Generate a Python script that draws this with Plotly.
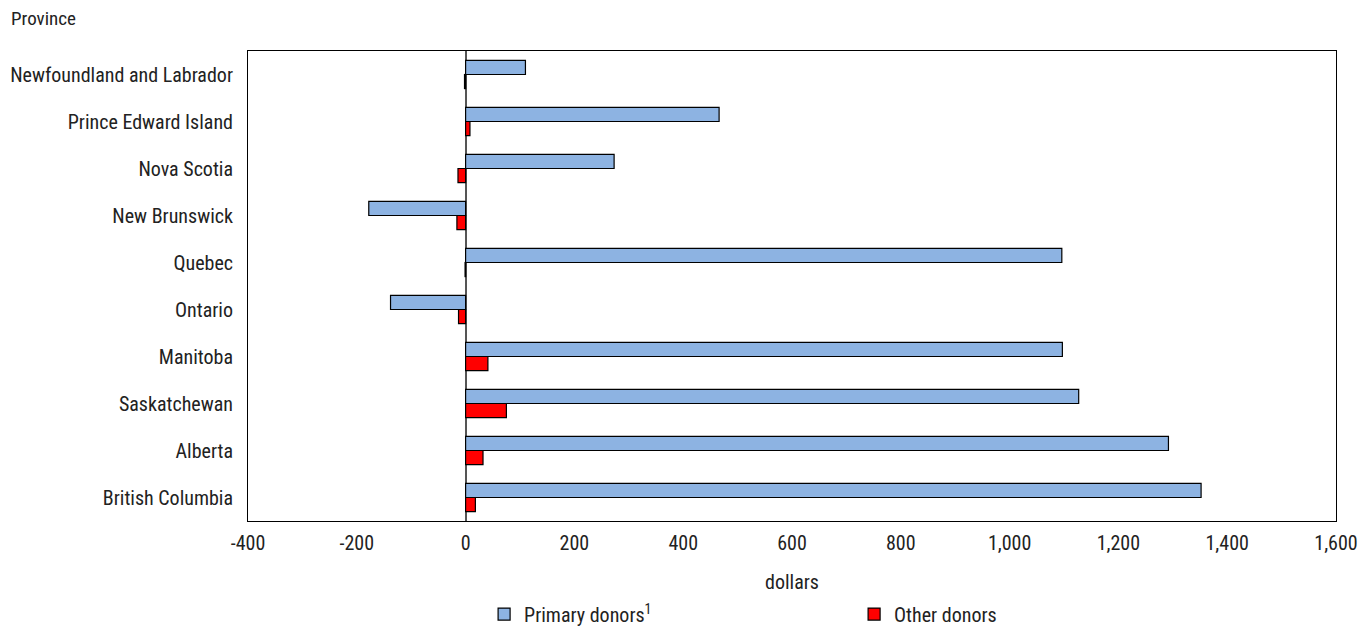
import plotly.graph_objects as go

provinces = ["Newfoundland and Labrador", "Prince Edward Island", "Nova Scotia",
             "New Brunswick", "Quebec", "Ontario", "Manitoba", "Saskatchewan",
             "Alberta", "British Columbia"]
primary_donors = [110, 466, 273, -178, 1096, -138, 1097, 1127, 1292, 1352]
other_donors = [-2, 8, -14, -16, -1, -13, 41, 75, 32, 18]
tick_vals = [-400, -200, 0, 200, 400, 600, 800, 1000, 1200, 1400, 1600]
tick_text = ["-400", "-200", "0", "200", "400", "600", "800", "1,000", "1,200", "1,400", "1,600"]

FONT = "Liberation Sans Narrow, Arial Narrow, Roboto Condensed, Liberation Sans, sans-serif"
FS = 20

fig = go.Figure()
fig.add_trace(go.Bar(y=provinces, x=primary_donors, orientation="h",
                     name="Primary donors<sup>1</sup>",
                     marker=dict(color="#8DB3E2", line=dict(color="black", width=1.2))))
fig.add_trace(go.Bar(y=provinces, x=other_donors, orientation="h",
                     name="Other donors",
                     marker=dict(color="#FF0000", line=dict(color="black", width=1.2))))

fig.update_layout(
    width=1358, height=621,
    margin=dict(l=240, r=30, t=43, b=108, autoexpand=False),
    paper_bgcolor="white", plot_bgcolor="white",
    font=dict(family=FONT, size=FS, color="#222222"),
    barmode="group", bargap=0.4, bargroupgap=0,
    showlegend=True,
    legend=dict(orientation="h", x=0.217, xref="paper", y=0.024, yref="container",
                xanchor="left", yanchor="middle",
                entrywidth=325, entrywidthmode="pixels",
                font=dict(family=FONT, size=FS), traceorder="normal"),
    xaxis=dict(range=[-400, 1600], tickvals=tick_vals, ticktext=tick_text,
               showgrid=False, zeroline=True, zerolinecolor="#555555", zerolinewidth=1.5,
               showline=True, linecolor="black", linewidth=1, mirror=True,
               ticks="", ticklabelstandoff=4, tickfont=dict(family=FONT, size=FS),
               title=dict(text="dollars", standoff=20, font=dict(family=FONT, size=FS))),
    yaxis=dict(autorange="reversed", showgrid=False, showline=True, linecolor="black",
               linewidth=1, mirror=True, ticks="", ticklabelstandoff=10,
               tickfont=dict(family=FONT, size=FS)),
    annotations=[dict(text="Province", xref="paper", yref="paper", x=-0.2197, y=1.0,
                      xanchor="left", yanchor="middle", yshift=33, showarrow=False,
                      font=dict(family=FONT, size=FS - 1))],
)

fig.write_html("out.html")
